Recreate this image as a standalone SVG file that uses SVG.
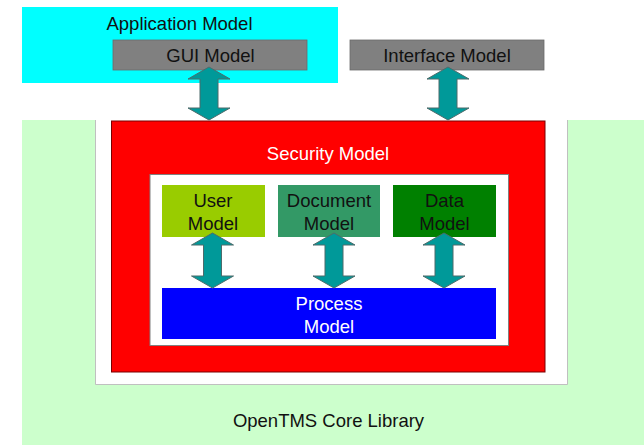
<svg xmlns="http://www.w3.org/2000/svg" width="644" height="445" viewBox="0 0 644 445">
<style>
text{font-family:"Liberation Sans",Arial,sans-serif;font-size:18.5px;text-anchor:middle}
.dk{fill:#111}
.wt{fill:#fff}
.arrow{fill:#009999;stroke:#4d6b6b;stroke-width:1}
</style>
<rect width="644" height="445" fill="#fff"/>
<g id="core-library">
<rect x="22" y="120" width="622" height="325" fill="#ccffcc"/>
<rect x="95" y="100" width="473" height="284" fill="#fff"/>
<path d="M95.5 120V384.5H567.5V120" fill="none" stroke="#c0c0c0" stroke-width="1"/>
<text x="328.5" y="427" class="dk">OpenTMS Core Library</text>
</g>
<g id="application-model">
<rect x="22" y="7" width="316" height="76" fill="#00ffff"/>
<text x="179.5" y="30" class="dk">Application Model</text>
</g>
<g id="gui-model">
<rect x="113" y="40" width="194" height="30" fill="#808080" stroke="#6a6a6a" stroke-width="0.8"/>
<text x="210.5" y="61.5" class="dk">GUI Model</text>
</g>
<g id="interface-model">
<rect x="350" y="40" width="194" height="30" fill="#808080" stroke="#6a6a6a" stroke-width="0.8"/>
<text x="447" y="61.5" class="dk">Interface Model</text>
</g>
<g id="security-model">
<rect x="111.5" y="121" width="433.5" height="251" fill="#ff0000" stroke="#7a0000" stroke-width="1"/>
<text x="328" y="159.5" class="wt">Security Model</text>
<rect x="150" y="174.5" width="358.5" height="171" fill="#fff" stroke="#808080" stroke-width="1"/>
</g>
<g id="user-model">
<rect x="162" y="185" width="103" height="52" fill="#99cc00"/>
<text x="213" y="207" class="dk">User</text>
<text x="213" y="229.5" class="dk">Model</text>
</g>
<g id="document-model">
<rect x="278" y="185" width="102" height="52" fill="#339966"/>
<text x="329" y="207" class="dk">Document</text>
<text x="329" y="229.5" class="dk">Model</text>
</g>
<g id="data-model">
<rect x="393" y="185" width="103" height="52" fill="#008000"/>
<text x="444.5" y="207" class="dk">Data</text>
<text x="444.5" y="229.5" class="dk">Model</text>
</g>
<g id="process-model">
<rect x="162" y="288" width="334" height="51" fill="#0000ff"/>
<text x="329" y="309.5" class="wt">Process</text>
<text x="329" y="332.5" class="wt">Model</text>
</g>
<g id="connectors">
<path class="arrow" d="M209 67l21 12h-12v29h12l-21 12l-21-12h12v-29h-12z"/>
<path class="arrow" d="M448 67l21 12h-12v29h12l-21 12l-21-12h12v-29h-12z"/>
<path class="arrow" d="M212.5 233l21 12h-12v31h12l-21 12l-21-12h12v-31h-12z"/>
<path class="arrow" d="M334 233l21 12h-12v31h12l-21 12l-21-12h12v-31h-12z"/>
<path class="arrow" d="M444 233l21 12h-12v31h12l-21 12l-21-12h12v-31h-12z"/>
</g>
</svg>
